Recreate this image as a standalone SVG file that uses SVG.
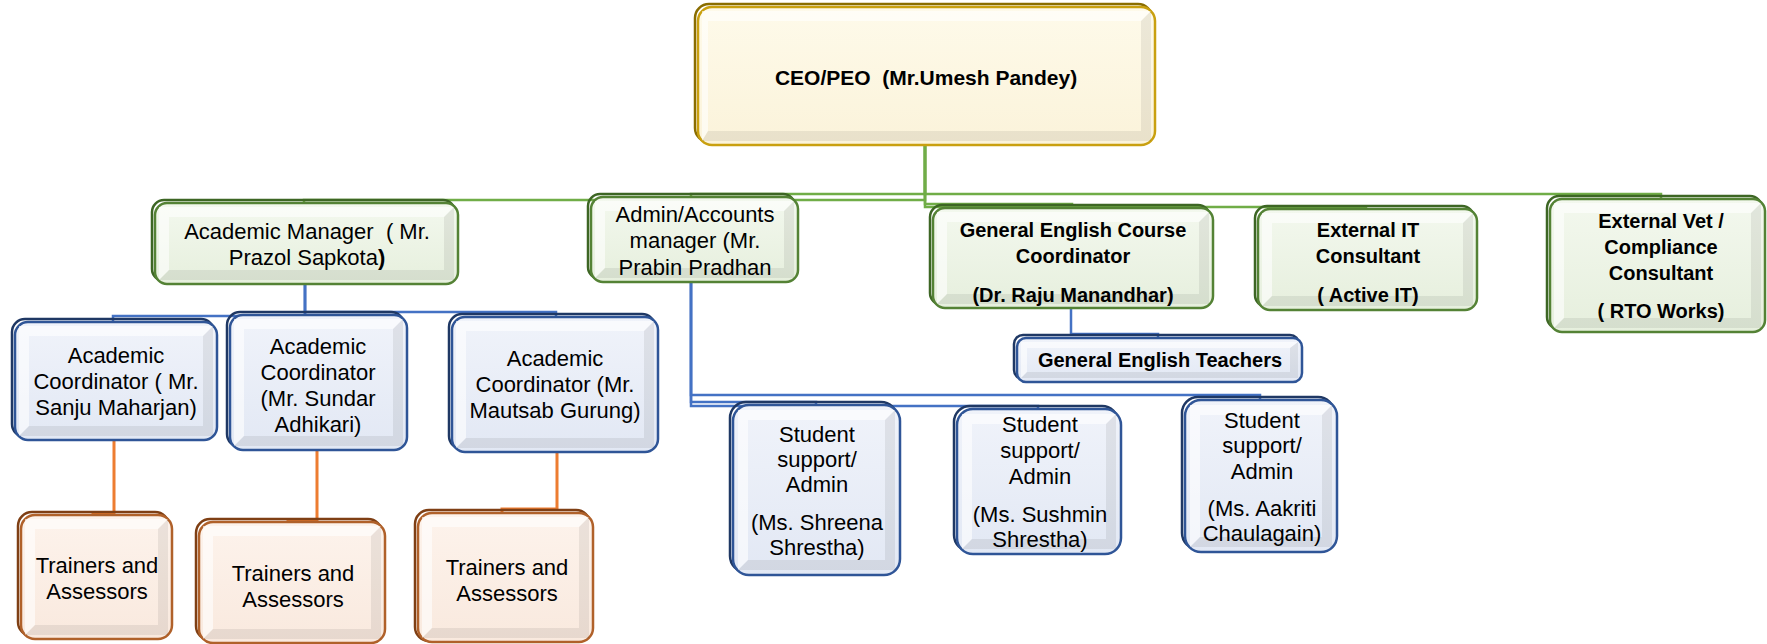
<svg xmlns="http://www.w3.org/2000/svg" width="1767" height="644" viewBox="0 0 1767 644">
<defs>
<linearGradient id="fg" x1="0" y1="0" x2="0" y2="1"><stop offset="0" stop-color="#f3f8ee"/><stop offset="1" stop-color="#e6efdd"/></linearGradient>
<linearGradient id="fb" x1="0" y1="0" x2="0" y2="1"><stop offset="0" stop-color="#f0f3fa"/><stop offset="1" stop-color="#e2e8f4"/></linearGradient>
<linearGradient id="fo" x1="0" y1="0" x2="0" y2="1"><stop offset="0" stop-color="#fdf3ec"/><stop offset="1" stop-color="#f9e9de"/></linearGradient>
<linearGradient id="fy" x1="0" y1="0" x2="0" y2="1"><stop offset="0" stop-color="#fefaea"/><stop offset="1" stop-color="#fbf3da"/></linearGradient>
</defs>
<style>
.t{font-family:"Liberation Sans",Arial,sans-serif;font-size:22px;fill:#000;text-anchor:middle}
.pre{white-space:pre}
.b{font-weight:bold;font-size:20px}
.sg{fill:none;stroke:#3d6624;stroke-width:2.5}
.sb{fill:none;stroke:#1f3864;stroke-width:2.5}
.so{fill:none;stroke:#7f3f14;stroke-width:2.5}
.sy{fill:none;stroke:#8a6d00;stroke-width:2.5}
.g{fill:url(#fg);stroke:#548235;stroke-width:2.5}
.bl{fill:url(#fb);stroke:#2f5597;stroke-width:2.5}
.o{fill:url(#fo);stroke:#b0612a;stroke-width:2.5}
.y{fill:url(#fy);stroke:#c9a010;stroke-width:2.5}
.hl{fill:#ffffff;opacity:0.6}
.dk{fill:#000000;opacity:0.07}
.cg{fill:none;stroke:#70ad47;stroke-width:2.5}
.cb{fill:none;stroke:#4472c4;stroke-width:2.5}
.co{fill:none;stroke:#ed7d31;stroke-width:3}
</style>

<g id="connectors">
<path class="cg" d="M925,145 V200 H304 V204"/>
<path class="cg" d="M925,145 V194 H691 V198"/>
<path class="cg" d="M925,145 V204 H1072 V209"/>
<path class="cg" d="M925,145 V207 H1366 V210"/>
<path class="cg" d="M925,145 V194 H1661 V200"/>
<path class="cb" d="M305,284 V316 H113 V322"/>
<path class="cb" d="M305,284 V316"/>
<path class="cb" d="M305,284 V312 H556 V318"/>
<path class="cb" d="M691,282 V402 H816 V406"/>
<path class="cb" d="M691,282 V406 H1038 V410"/>
<path class="cb" d="M691,282 V395 H1260 V401"/>
<path class="cb" d="M1071,308 V334 H1158 V339"/>
<path class="co" d="M114,440 V513 H93 V516"/>
<path class="co" d="M317,450 V520 H288 V523"/>
<path class="co" d="M557,452 V509 H502 V514"/>
</g>

<g id="ceo">
<rect class="sy" x="695" y="4" width="457" height="138" rx="14"/>
<rect class="y" x="698" y="7" width="457" height="138" rx="14"/>
<path class="hl" d="M702,11 H1151 L1141,21 H708 V131 L702,141 Z"/>
<path class="dk" d="M1151,11 V141 H702 L708,131 H1141 V21 Z"/>
<text class="t pre" style="font-size:21px;font-weight:bold" x="926" y="85">CEO/PEO  (Mr.Umesh Pandey)</text>
</g>

<g id="academic-manager">
<rect class="sg" x="152" y="200" width="303" height="81" rx="12"/>
<rect class="g" x="155" y="203" width="303" height="81" rx="12"/>
<path class="hl" d="M159,207 H454 L444,217 H169 V270 L159,280 Z"/>
<path class="dk" d="M454,207 V280 H159 L169,270 H444 V217 Z"/>
<text class="t pre" x="307" y="239">Academic Manager  ( Mr.</text>
<text class="t" x="307" y="265">Prazol Sapkota<tspan font-weight="bold">)</tspan></text>
</g>

<g id="admin-manager">
<rect class="sg" x="588" y="194" width="207" height="85" rx="12"/>
<rect class="g" x="591" y="197" width="207" height="85" rx="12"/>
<path class="hl" d="M595,201 H794 L784,211 H605 V268 L595,278 Z"/>
<path class="dk" d="M794,201 V278 H595 L605,268 H784 V211 Z"/>
<text class="t" x="695" y="222">Admin/Accounts</text>
<text class="t" x="695" y="248">manager (Mr.</text>
<text class="t" x="695" y="275">Prabin Pradhan</text>
</g>

<g id="ge-coordinator">
<rect class="sg" x="930" y="205" width="280" height="100" rx="12"/>
<rect class="g" x="933" y="208" width="280" height="100" rx="12"/>
<path class="hl" d="M937,212 H1209 L1199,222 H947 V294 L937,304 Z"/>
<path class="dk" d="M1209,212 V304 H937 L947,294 H1199 V222 Z"/>
<text class="t b" x="1073" y="237">General English Course</text>
<text class="t b" x="1073" y="263">Coordinator</text>
<text class="t b" x="1073" y="302">(Dr. Raju Manandhar)</text>
</g>

<g id="external-it">
<rect class="sg" x="1255" y="206" width="219" height="101" rx="12"/>
<rect class="g" x="1258" y="209" width="219" height="101" rx="12"/>
<path class="hl" d="M1262,213 H1473 L1463,223 H1272 V296 L1262,306 Z"/>
<path class="dk" d="M1473,213 V306 H1262 L1272,296 H1463 V223 Z"/>
<text class="t b" x="1368" y="237">External IT</text>
<text class="t b" x="1368" y="263">Consultant</text>
<text class="t b pre" x="1368" y="302">( Active IT)</text>
</g>

<g id="external-vet">
<rect class="sg" x="1547" y="196" width="215" height="133" rx="12"/>
<rect class="g" x="1550" y="199" width="215" height="133" rx="12"/>
<path class="hl" d="M1554,203 H1761 L1751,213 H1564 V318 L1554,328 Z"/>
<path class="dk" d="M1761,203 V328 H1554 L1564,318 H1751 V213 Z"/>
<text class="t b" x="1661" y="228">External Vet /</text>
<text class="t b" x="1661" y="254">Compliance</text>
<text class="t b" x="1661" y="280">Consultant</text>
<text class="t b pre" x="1661" y="318">( RTO Works)</text>
</g>

<g id="ge-teachers">
<rect class="sb" x="1014" y="335" width="285" height="44" rx="9"/>
<rect class="bl" x="1017" y="338" width="285" height="44" rx="9"/>
<path class="hl" d="M1021,342 H1298 L1290,348 H1027 V372 L1021,378 Z"/>
<path class="dk" d="M1298,342 V378 H1021 L1027,372 H1290 V348 Z"/>
<text class="t b" x="1160" y="367">General English Teachers</text>
</g>

<g id="coord-1">
<rect class="sb" x="12" y="319" width="202" height="118" rx="13"/>
<rect class="bl" x="15" y="322" width="202" height="118" rx="13"/>
<path class="hl" d="M19,326 H213 L203,336 H29 V426 L19,436 Z"/>
<path class="dk" d="M213,326 V436 H19 L29,426 H203 V336 Z"/>
<text class="t" x="116" y="363">Academic</text>
<text class="t pre" x="116" y="389">Coordinator ( Mr.</text>
<text class="t" x="116" y="415">Sanju Maharjan)</text>
</g>

<g id="coord-2">
<rect class="sb" x="227" y="312" width="177" height="135" rx="13"/>
<rect class="bl" x="230" y="315" width="177" height="135" rx="13"/>
<path class="hl" d="M234,319 H403 L393,329 H244 V436 L234,446 Z"/>
<path class="dk" d="M403,319 V446 H234 L244,436 H393 V329 Z"/>
<text class="t" x="318" y="354">Academic</text>
<text class="t" x="318" y="380">Coordinator</text>
<text class="t" x="318" y="406">(Mr. Sundar</text>
<text class="t" x="318" y="432">Adhikari)</text>
</g>

<g id="coord-3">
<rect class="sb" x="449" y="314" width="206" height="135" rx="13"/>
<rect class="bl" x="452" y="317" width="206" height="135" rx="13"/>
<path class="hl" d="M456,321 H654 L644,331 H466 V438 L456,448 Z"/>
<path class="dk" d="M654,321 V448 H456 L466,438 H644 V331 Z"/>
<text class="t" x="555" y="366">Academic</text>
<text class="t" x="555" y="392">Coordinator (Mr.</text>
<text class="t" x="555" y="418">Mautsab Gurung)</text>
</g>

<g id="student-1">
<rect class="sb" x="730" y="402" width="167" height="170" rx="16"/>
<rect class="bl" x="733" y="405" width="167" height="170" rx="16"/>
<path class="hl" d="M738,410 H895 L885,420 H748 V560 L738,570 Z"/>
<path class="dk" d="M895,410 V570 H738 L748,560 H885 V420 Z"/>
<text class="t" x="817" y="442">Student</text>
<text class="t" x="817" y="467">support/</text>
<text class="t" x="817" y="492">Admin</text>
<text class="t" x="817" y="530">(Ms. Shreena</text>
<text class="t" x="817" y="555">Shrestha)</text>
</g>

<g id="student-2">
<rect class="sb" x="954" y="406" width="164" height="145" rx="16"/>
<rect class="bl" x="957" y="409" width="164" height="145" rx="16"/>
<path class="hl" d="M962,414 H1116 L1106,424 H972 V539 L962,549 Z"/>
<path class="dk" d="M1116,414 V549 H962 L972,539 H1106 V424 Z"/>
<text class="t" x="1040" y="432">Student</text>
<text class="t" x="1040" y="458">support/</text>
<text class="t" x="1040" y="484">Admin</text>
<text class="t" x="1040" y="522">(Ms. Sushmin</text>
<text class="t" x="1040" y="547">Shrestha)</text>
</g>

<g id="student-3">
<rect class="sb" x="1182" y="397" width="152" height="152" rx="16"/>
<rect class="bl" x="1185" y="400" width="152" height="152" rx="16"/>
<path class="hl" d="M1190,405 H1332 L1322,415 H1200 V537 L1190,547 Z"/>
<path class="dk" d="M1332,405 V547 H1190 L1200,537 H1322 V415 Z"/>
<text class="t" x="1262" y="428">Student</text>
<text class="t" x="1262" y="453">support/</text>
<text class="t" x="1262" y="479">Admin</text>
<text class="t" x="1262" y="516">(Ms. Aakriti</text>
<text class="t" x="1262" y="541">Chaulagain)</text>
</g>

<g id="trainers-1">
<rect class="so" x="18" y="512" width="151" height="124" rx="14"/>
<rect class="o" x="21" y="515" width="151" height="124" rx="14"/>
<path class="hl" d="M25,519 H168 L158,529 H35 V625 L25,635 Z"/>
<path class="dk" d="M168,519 V635 H25 L35,625 H158 V529 Z"/>
<text class="t" x="97" y="573">Trainers and</text>
<text class="t" x="97" y="599">Assessors</text>
</g>

<g id="trainers-2">
<rect class="so" x="196" y="519" width="186" height="121" rx="14"/>
<rect class="o" x="199" y="522" width="186" height="121" rx="14"/>
<path class="hl" d="M203,526 H381 L371,536 H213 V629 L203,639 Z"/>
<path class="dk" d="M381,526 V639 H203 L213,629 H371 V536 Z"/>
<text class="t" x="293" y="581">Trainers and</text>
<text class="t" x="293" y="607">Assessors</text>
</g>

<g id="trainers-3">
<rect class="so" x="415" y="510" width="175" height="131" rx="14"/>
<rect class="o" x="418" y="513" width="175" height="129" rx="14"/>
<path class="hl" d="M422,517 H589 L579,527 H432 V628 L422,638 Z"/>
<path class="dk" d="M589,517 V638 H422 L432,628 H579 V527 Z"/>
<text class="t" x="507" y="575">Trainers and</text>
<text class="t" x="507" y="601">Assessors</text>
</g>
</svg>
